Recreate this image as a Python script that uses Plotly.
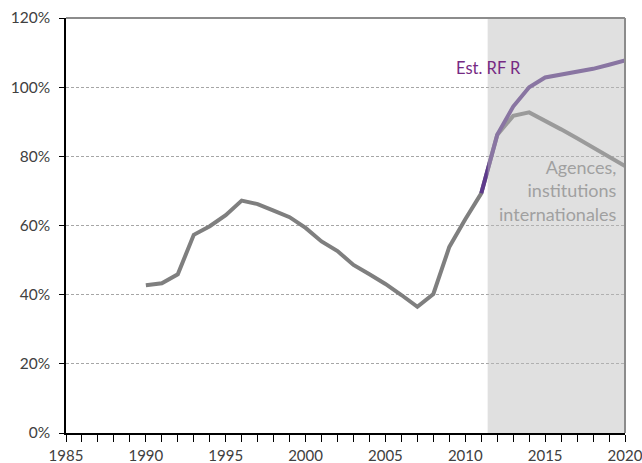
import plotly.graph_objects as go

years_hist = list(range(1990, 2021))
agences = [42.7, 43.3, 45.9, 57.3, 59.8, 63.0, 67.2, 66.2, 64.3, 62.4, 59.3,
           55.4, 52.6, 48.6, 45.9, 43.1, 39.9, 36.5, 40.2, 53.8, 61.8, 69.3,
           86.2, 91.7, 92.7, 90.4, 87.8, 85.2, 82.6, 80.0, 77.2]
years_est = list(range(2011, 2021))
est_rfr = [69.3, 86.2, 94.4, 100.0, 102.8, 103.7, 104.5, 105.3, 106.5, 107.7]

forecast_start = 2011.4
forecast_end = 2020
label_est = "Est. RF R"
label_ag = "Agences,<br>institutions<br>internationales"

font_family = "Lato, 'Open Sans', sans-serif"

fig = go.Figure()
fig.add_trace(go.Scatter(x=years_hist, y=agences, mode="lines",
                         line=dict(color="#7f7f7f", width=4), showlegend=False))
fig.add_trace(go.Scatter(x=years_est, y=est_rfr, mode="lines",
                         line=dict(color="#5e3a8c", width=4), showlegend=False))

# shaded forecast zone (semi-transparent, over the lines)
fig.add_shape(type="rect", xref="x", yref="y", x0=forecast_start, x1=forecast_end,
              y0=0, y1=120, fillcolor="rgba(188,188,188,0.46)", line_width=0,
              layer="above")
# top and right frame lines
fig.add_shape(type="line", xref="paper", yref="paper", x0=0, x1=1, y0=1, y1=1,
              line=dict(color="#8c8c8c", width=2), layer="above")
fig.add_shape(type="line", xref="paper", yref="paper", x0=1, x1=1, y0=0, y1=1,
              line=dict(color="#8c8c8c", width=2), layer="above")

fig.add_annotation(x=2013.6, y=105.5, text=label_est, showarrow=False,
                   xanchor="right", yanchor="middle",
                   font=dict(family=font_family, size=16.5, color="#762a83"))
fig.add_annotation(x=2019.6, y=70.0, text=label_ag, showarrow=False,
                   xanchor="right", yanchor="middle", align="right",
                   font=dict(family=font_family, size=18, color="#a0a0a0"))

fig.update_layout(
    width=642, height=463,
    margin=dict(l=66, r=17, t=18, b=30, autoexpand=False),
    paper_bgcolor="white", plot_bgcolor="white",
    font=dict(family=font_family, size=15, color="#404040"),
    xaxis=dict(range=[1985, 2020], tick0=1985, dtick=5, showgrid=False,
               showline=True, linecolor="black", linewidth=1.5,
               ticks="outside", ticklen=7, tickcolor="black", automargin=False,
               ticklabelstandoff=1, ticklabeloverflow="allow",
               minor=dict(dtick=1, ticks="outside", ticklen=7, tickcolor="black"),
               zeroline=False, tickfont=dict(size=15, color="#404040")),
    yaxis=dict(range=[0, 120], tick0=0, dtick=20, ticksuffix="%",
               showgrid=True, gridcolor="#a6a6a6", griddash="3px,2px", gridwidth=1,
               showline=True, linecolor="black", linewidth=1.5, automargin=False,
               ticks="outside", ticklen=5, tickcolor="black", ticklabelstandoff=6,
               zeroline=False, tickfont=dict(size=15.5, color="#404040")),
)

fig.write_html("out.html")
